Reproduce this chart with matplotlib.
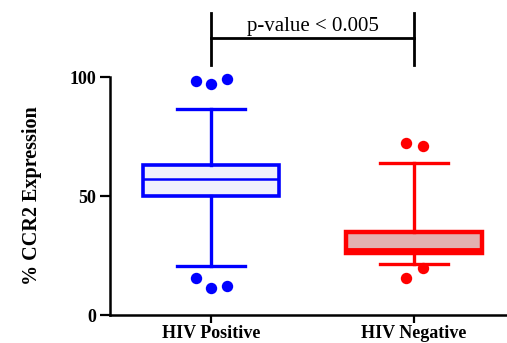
import matplotlib
matplotlib.use("Agg")
import matplotlib.pyplot as plt

# Group labels and summary statistics (% CCR2 expression)
groups = ["HIV Positive", "HIV Negative"]
q1 = [50.0, 26.0]
median = [57.0, 27.5]
q3 = [63.0, 35.0]
whisker_low = [20.6, 21.4]
whisker_high = [86.5, 64.0]
outliers_high = [[98.3, 97.1, 99.3], [72.2, 71.0]]
outliers_low = [[15.5, 11.3, 12.2], [15.5, 19.7]]
outlier_offsets_high = [[-0.075, 0.0, 0.08], [-0.04, 0.045]]
outlier_offsets_low = [[-0.075, 0.0, 0.08], [-0.04, 0.045]]
y_ticks = [0, 50, 100]
p_text = "p-value < 0.005"

colors = ["#0000ff", "#ff0000"]
faces = ["#f0f0fc", "#e3b0b0"]

fig = plt.figure(figsize=(5.07, 3.43), dpi=100)
ax = fig.add_axes([0.217, 0.0816, 0.783, 0.6939])

stats = []
for i, g in enumerate(groups):
    stats.append(dict(label=g, med=median[i], q1=q1[i], q3=q3[i],
                      whislo=whisker_low[i], whishi=whisker_high[i], fliers=[]))

for i, s in enumerate(stats):
    bp = ax.bxp([s], positions=[i], widths=0.67, capwidths=0.335,
                patch_artist=True, showfliers=False,
                boxprops=dict(facecolor=faces[i], edgecolor=colors[i], linewidth=2.6 if i == 0 else 3.2),
                medianprops=dict(color=colors[i], linewidth=1.8 if i == 0 else 3.5),
                whiskerprops=dict(color=colors[i], linewidth=2.4),
                capprops=dict(color=colors[i], linewidth=2.4))
    for c in bp["caps"] + bp["whiskers"] + bp["boxes"] + bp["medians"]:
        c.set_clip_on(False)
    xs = [i + o for o in outlier_offsets_high[i]] + [i + o for o in outlier_offsets_low[i]]
    ys = outliers_high[i] + outliers_low[i]
    ax.plot(xs, ys, "o", color=colors[i], markersize=8.2, markeredgewidth=0,
            clip_on=False, zorder=5)

ax.set_xlim(-0.5, 1.46)
ax.set_ylim(0, 100)

for s in ["top", "right"]:
    ax.spines[s].set_visible(False)
for s in ["left", "bottom"]:
    ax.spines[s].set_linewidth(1.8)

ax.set_yticks(y_ticks)
ax.set_xticks(range(len(groups)))
ax.set_xticklabels(groups)
ax.tick_params(axis="y", length=7, width=1.6, direction="out", pad=3)
ax.tick_params(axis="x", length=6, width=1.6, direction="out", pad=1)
for lbl in ax.get_yticklabels():
    lbl.set_fontfamily("Liberation Serif")
    lbl.set_fontweight("bold")
    lbl.set_fontsize(13)
for lbl in ax.get_xticklabels():
    lbl.set_fontfamily("Liberation Serif")
    lbl.set_fontweight("bold")
    lbl.set_fontsize(13)

ax.set_ylabel("% CCR2 Expression", fontfamily="Liberation Serif",
              fontweight="bold", fontsize=14.5, labelpad=20)

# Significance bracket between the two groups
ax.plot([0, 0, 1, 1], [105, 116.4, 116.4, 105], color="black", linewidth=2.0,
        clip_on=False, solid_joinstyle="miter")
ax.plot([0, 0], [116.4, 126.9], color="black", linewidth=2.0, clip_on=False)
ax.plot([1, 1], [116.4, 126.9], color="black", linewidth=2.0, clip_on=False)
ax.text(0.5, 117.3, p_text, ha="center", va="bottom", fontfamily="Liberation Serif",
        fontsize=15)

fig.savefig("out.png", dpi=100)
